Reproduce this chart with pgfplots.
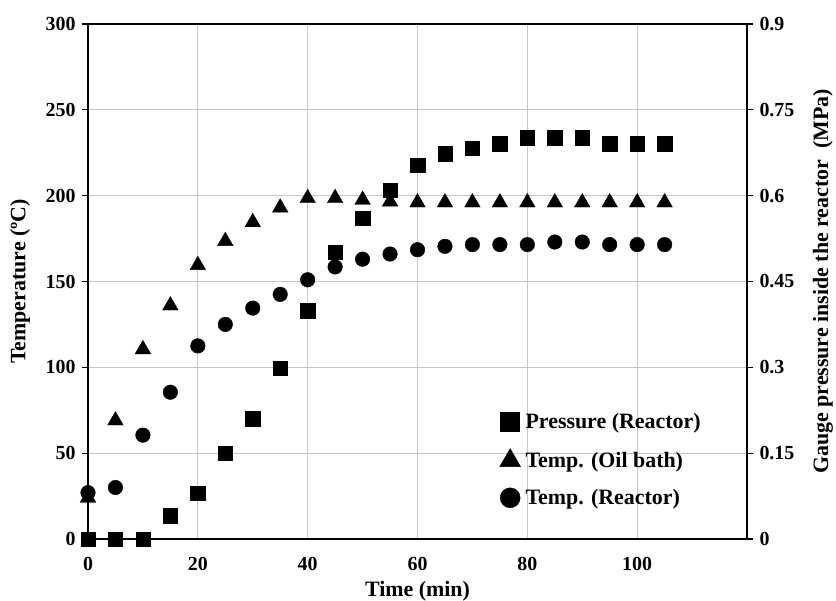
\documentclass[border=0pt]{standalone}
\usepackage{fontspec}
\setmainfont{Liberation Serif}
\usepackage{pgfplots}
\usepackage{pgfplotstable}
\pgfplotsset{compat=1.18}

% temperatures (degC)
\pgfplotstableread{
t    oil    reac
0    24     27
5    69     30
10   110.5  60.5
15   136    85.5
20   159.5  112.5
25   173.5  125
30   184.5  134.5
35   193    142.5
40   198.5  151
45   198.5  158.5
50   197.5  163
55   196.5  166
60   196    168.5
65   196    170.5
70   196    171.5
75   196    171.5
80   196    171.5
85   196    173
90   196    173
95   196    171.5
100  196    171.5
105  196    171.5
}\temps

% gauge pressure (MPa)
\pgfplotstableread{
t    p
0    0
5    0
10   0
15   0.041
20   0.080
25   0.150
30   0.210
35   0.299
40   0.399
45   0.501
50   0.561
55   0.610
60   0.653
65   0.673
70   0.683
75   0.691
80   0.701
85   0.701
90   0.701
95   0.691
100  0.691
105  0.691
}\press

\begin{document}
\begin{tikzpicture}
\pgfplotsset{
  every axis/.append style={
    scale only axis, width=659bp, height=515bp,
    xmin=0, xmax=120, clip=false,
    /pgf/number format/assume math mode=true,
    tick label style={font=\fontsize{20}{20}\selectfont\bfseries},
    label style={font=\fontsize{22}{22}\selectfont\bfseries},
    tick align=outside, major tick length=6bp,
    tick style={black, line width=1.2bp},
    axis line style={black, line width=1.5bp},
  }
}
\begin{axis}[
  ymin=0, ymax=300,
  xtick={0,20,...,100}, ytick={0,50,...,300},
  xticklabels={0,20,40,60,80,100},
  yticklabels={0,50,100,150,200,250,300},
  ytick pos=left, xtick pos=bottom,
  xtick style={draw=none},
  grid=major, major grid style={black!22, line width=1bp},
  xticklabel style={anchor=base, yshift=-25bp},
  yticklabel style={xshift=-3bp},
  xlabel={Time (min)},
  ylabel={Temperature (ºC)},
  xlabel style={at={(axis description cs:0.5,-0.112)}, anchor=base},
  ylabel style={at={(axis description cs:-0.103,0.5)}, anchor=center},
]
\coordinate (ll) at (rel axis cs:0,0);
\coordinate (ur) at (rel axis cs:1,1);
\addplot[only marks, mark=triangle*, mark size=9bp, black] table[x=t, y=oil] {\temps};
\addplot[only marks, mark=*, mark size=7.3bp, black] table[x=t, y=reac] {\temps};
\end{axis}
\begin{axis}[
  ymin=0, ymax=0.9,
  axis x line=none, axis y line*=right,
  ytick={0,0.15,0.3,0.45,0.6,0.75,0.9},
  yticklabels={0,0.15,0.3,0.45,0.6,0.75,0.9},
  yticklabel style={xshift=3bp},
  ylabel={Gauge pressure inside the reactor\ \ (MPa)},
  ylabel style={at={(axis description cs:1.1153,0.5)}, anchor=center},
  legend cell align=left,
  legend style={draw=none, fill=none, at={(rel axis cs:0.62,0.252)}, anchor=north west,
    font=\fontsize{22}{22}\selectfont\bfseries, row sep=16.5bp, column sep=3bp},
]
\addplot[only marks, mark=square*, mark size=7.2bp, black, forget plot] table[x=t, y=p] {\press};
\addlegendimage{only marks, mark=square*, mark size=9.5bp, black}
\addlegendentry{Pressure (Reactor)}
\addlegendimage{only marks, mark=triangle*, mark size=12bp, black}
\addlegendentry{Temp. (Oil bath)}
\addlegendimage{only marks, mark=*, mark size=10bp, black}
\addlegendentry{Temp. (Reactor)}
\end{axis}
\pgfresetboundingbox
\useasboundingbox ([shift={(-88bp,-62bp)}]ll) rectangle ([shift={(89bp,24bp)}]ur);
\end{tikzpicture}
\end{document}
